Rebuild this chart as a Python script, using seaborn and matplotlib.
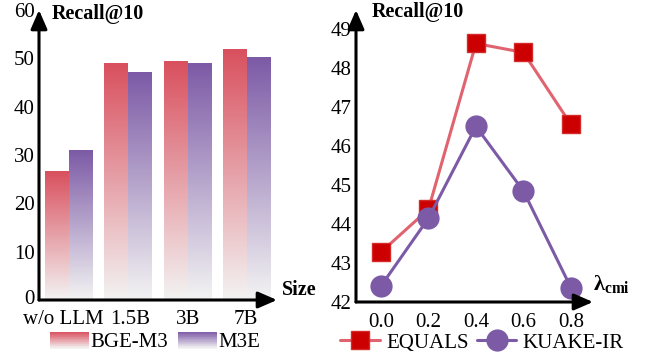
import numpy as np
import pandas as pd
import seaborn as sns
import matplotlib.pyplot as plt
from matplotlib.colors import LinearSegmentedColormap
from matplotlib.legend_handler import HandlerBase
from matplotlib.patches import Rectangle
from matplotlib.lines import Line2D
from matplotlib.transforms import ScaledTranslation

# data
sizes = ['w/o LLM', '1.5B', '3B', '7B']
bge_m3 = [26.5, 48.9, 49.3, 51.8]
m3e = [31.0, 47.0, 48.9, 50.1]

lambdas = [0.0, 0.2, 0.4, 0.6, 0.8]
lambda_labels = ['0.0', '0.2', '0.4', '0.6', '0.8']
equals = [43.28, 44.38, 48.64, 48.41, 46.56]
kuake_ir = [42.41, 44.15, 46.51, 44.85, 42.37]

RED = '#d9505e'
PURPLE = '#7c5aa6'
PALE = '#f3f3f3'

sns.set_theme(style='white')
plt.rcParams['font.family'] = ['Liberation Serif', 'DejaVu Serif']
plt.rcParams['mathtext.fontset'] = 'custom'
plt.rcParams['mathtext.bf'] = 'Liberation Serif:bold'
plt.rcParams['mathtext.rm'] = 'Liberation Serif'
for k in ['text.color', 'axes.labelcolor', 'xtick.color', 'ytick.color']:
    plt.rcParams[k] = 'black'


def gradient_cmap(col):
    return LinearSegmentedColormap.from_list('g', [PALE, col])


def shift(lab, dx, dy):
    lab.set_transform(lab.get_transform() +
                      ScaledTranslation(dx / 100, dy / 100, fig.dpi_scale_trans))


class GradHandler(HandlerBase):
    def __init__(self, color):
        super().__init__()
        self.color = color

    def create_artists(self, legend, orig_handle, xdescent, ydescent,
                       width, height, fontsize, trans):
        cmap = gradient_cmap(self.color)
        n = 24
        arts = []
        for i in range(n):
            r = Rectangle((-xdescent, -ydescent + height * i / n), width,
                          height / n * 1.1, facecolor=cmap(i / (n - 1)),
                          edgecolor='none', transform=trans)
            arts.append(r)
        return arts


def arrow_axes(ax):
    for s in ax.spines.values():
        s.set_visible(False)
    kw = dict(arrowstyle='-|>,head_length=1.15,head_width=0.5', lw=2.2,
              color='black', mutation_scale=10, shrinkA=0, shrinkB=0)
    ax.annotate('', xy=(0, 1), xytext=(0, 0), xycoords='axes fraction',
                arrowprops=kw, annotation_clip=False)
    ax.annotate('', xy=(1, 0), xytext=(0, 0), xycoords='axes fraction',
                arrowprops=kw, annotation_clip=False)
    ax.tick_params(length=0, labelsize=15, pad=3)


fig = plt.figure(figsize=(6.49, 3.58), dpi=100)
ax1 = fig.add_axes([39 / 649, 58 / 358, 238 / 649, 290 / 358])
ax2 = fig.add_axes([356 / 649, 56 / 358, 237 / 649, 292 / 358])

# left: bars with vertical gradient
df_bar = pd.DataFrame({'Size': sizes * 2,
                       'Recall': bge_m3 + m3e,
                       'Model': ['BGE-M3'] * 4 + ['M3E'] * 4})
sns.barplot(df_bar, x='Size', y='Recall', hue='Model', palette=[RED, PURPLE],
            width=0.8, saturation=1, legend=False, ax=ax1)

grad = np.linspace(0, 1, 256).reshape(-1, 1)
for cont, col in zip(ax1.containers, [RED, PURPLE]):
    cmap = gradient_cmap(col)
    for bar in cont:
        x, w, h = bar.get_x(), bar.get_width(), bar.get_height()
        ax1.imshow(grad, cmap=cmap, origin='lower', extent=[x, x + w, 0, h],
                   aspect='auto', zorder=2)
        bar.set_visible(False)

ax1.set_xlim(-0.5, 3.5)
ax1.set_ylim(0, 60)
ax1.set_yticks(range(0, 61, 10))
ax1.set_xlabel('')
ax1.set_ylabel('')
arrow_axes(ax1)
ax1.tick_params(axis='x', pad=7)
# nudge the category labels like in the reference
for lab, dx in zip(ax1.get_xticklabels(), [-5, 2, 0, -1]):
    shift(lab, dx, 0)
shift(ax1.get_yticklabels()[0], 0, 3)
ax1.text(0.055, 0.985, 'Recall@10', transform=ax1.transAxes, fontsize=14.5,
         fontweight='bold', va='center', ha='left')
ax1.text(1.02, 0.035, 'Size', transform=ax1.transAxes, fontsize=14.5,
         fontweight='bold', va='center', ha='left')

h1 = Rectangle((0, 0), 1, 1)
h2 = Rectangle((0, 0), 1, 1)
fig.legend([h1, h2], ['BGE-M3', 'M3E'], loc='center',
           bbox_to_anchor=(155 / 649, 1 - 342 / 358), ncol=2, frameon=False,
           fontsize=15, handlelength=1.87, handleheight=0.87,
           handletextpad=0.05, columnspacing=0.5, borderpad=0,
           handler_map={h1: GradHandler(RED), h2: GradHandler(PURPLE)})

# right: lines
sns.lineplot(x=lambdas, y=equals, ax=ax2, color='#e06470', lw=2.2,
             marker='s', markersize=13, markerfacecolor='#cc0000',
             markeredgecolor='#d42a2a', markeredgewidth=1, clip_on=False)
sns.lineplot(x=lambdas, y=kuake_ir, ax=ax2, color=PURPLE, lw=2.2,
             marker='o', markersize=16, markeredgewidth=0, clip_on=False)
ax2.set_xlim(-0.105, 0.893)
ax2.set_ylim(42, 49.5)
ax2.set_xticks(lambdas)
ax2.set_xticklabels(lambda_labels)
ax2.set_yticks(range(42, 50))
arrow_axes(ax2)
ax2.tick_params(axis='x', pad=8)
ax2.text(0.068, 0.993, 'Recall@10', transform=ax2.transAxes, fontsize=14.5,
         fontweight='bold', va='center', ha='left')
ax2.text(1.0, 0.06, r'$\mathbf{\lambda_{cmi}}$', transform=ax2.transAxes,
         fontsize=16, va='center', ha='left')

l1 = Line2D([], [], color='#e06470', lw=2.2, marker='s', markersize=13,
            markerfacecolor='#cc0000', markeredgecolor='#d42a2a',
            markeredgewidth=1)
l2 = Line2D([], [], color=PURPLE, lw=2.2, marker='o', markersize=16,
            markeredgewidth=0)
fig.legend([l1, l2], ['EQUALS', 'KUAKE-IR'], loc='center',
           bbox_to_anchor=(482 / 649, 1 - 343 / 358), ncol=2, frameon=False,
           fontsize=15, handlelength=1.9, handletextpad=0.3,
           columnspacing=0.4, borderpad=0)

fig.savefig('out.png', dpi=100)
